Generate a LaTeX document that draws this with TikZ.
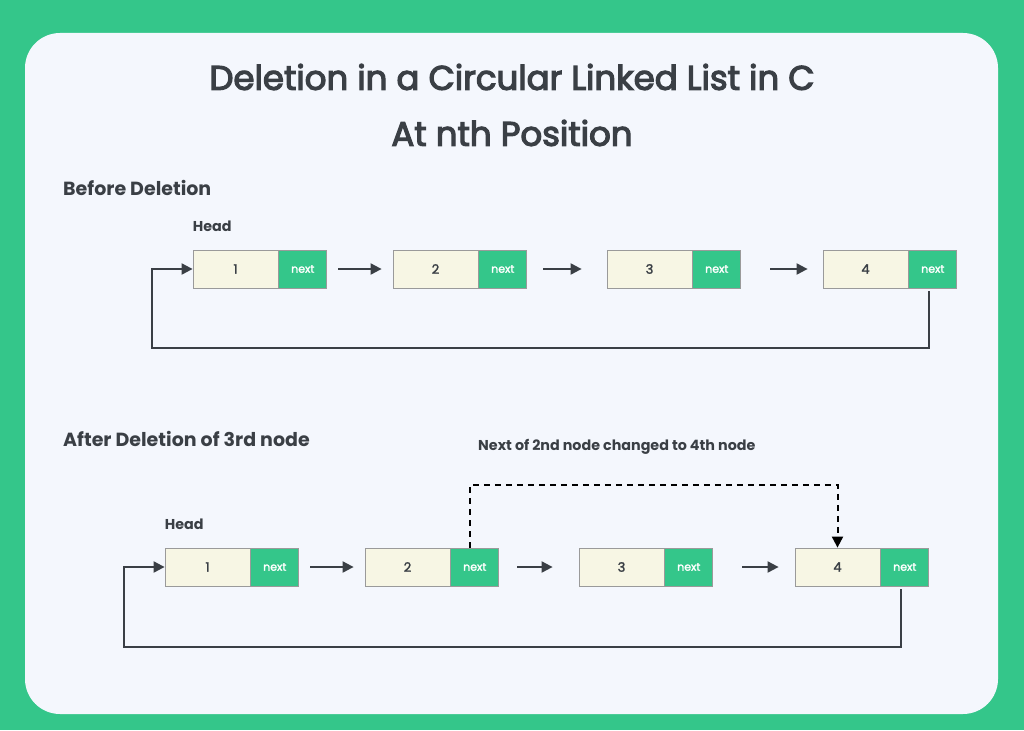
\documentclass[tikz,border=0pt]{standalone}
\usepackage{fontspec}
\setmainfont{Poppins}
\newfontfamily\popmed[FakeBold=2]{Poppins}
\newfontfamily\poptitle[FakeBold=3.5]{Poppins}
\usetikzlibrary{arrows.meta,positioning}

\definecolor{ggreen}{HTML}{34C68A}
\definecolor{panel}{HTML}{F4F7FD}
\definecolor{cream}{HTML}{F7F6E4}
\definecolor{ink}{HTML}{3A3F45}
\definecolor{edge}{HTML}{9A9A9A}

\begin{document}
\begin{tikzpicture}[
  x=1pt, y=-1pt,
  data/.style={draw=edge, fill=cream, line width=0.8pt, minimum width=85pt, minimum height=38pt, inner sep=0pt, text=ink, font=\fontsize{13}{13}\popmed},
  nxt/.style={draw=edge, fill=ggreen, line width=0.8pt, minimum width=48pt, minimum height=38pt, inner sep=0pt, text=white, font=\fontsize{11}{11}\popmed},
  link/.style={-{Triangle[length=11pt,width=11pt]}, draw=ink, line width=2pt},
  dlink/.style={-{Triangle[length=11pt,width=11pt]}, draw=black, line width=2pt, dash pattern=on 6pt off 5pt},
  lbl/.style={inner sep=0pt, text=ink, font=\fontsize{14.3}{15}\bfseries},
  sect/.style={inner sep=0pt, text=ink, anchor=west, font=\fontsize{19}{20}\bfseries},
  ttl/.style={text=ink, font=\fontsize{34}{38}\poptitle}
]
  % background and panel
  \fill[ggreen] (0,0) rectangle (1024,730);
  \fill[panel, rounded corners=35pt] (25,33) rectangle (998,714);

  \node[ttl] (title) at (512,77) {Deletion in a Circular Linked List in C};
  \node[ttl] (subtitle) at (512,133) {At nth Position};

  % before deletion
  \node[sect] (before) at (63,188) {Before Deletion};

  \node[data] (a1) at (235.5,269) {1};
  \node[nxt, right=0pt of a1] (a1n) {next};
  \node[data] (a2) at (435.5,269) {2};
  \node[nxt, right=0pt of a2] (a2n) {next};
  \node[data] (a3) at (649.5,269) {3};
  \node[nxt, right=0pt of a3] (a3n) {next};
  \node[data] (a4) at (865.5,269) {4};
  \node[nxt, right=0pt of a4] (a4n) {next};
  \node[lbl, anchor=south west] (ahead) at ([yshift=18pt]a1.north west) {Head};

  \draw[link, shorten <=11pt, shorten >=11pt] (a1n) -- (a2);
  \draw[link, shorten <=16pt, shorten >=25pt] (a2n) -- (a3);
  \draw[link, shorten <=29pt, shorten >=15pt] (a3n) -- (a4);
  \draw[link, shorten <=3pt] ([xshift=-4pt]a4n.south) -- ++(0,60) -| ([xshift=-41pt]a1.west) -- (a1.west);

  % after deletion
  \node[sect] (after) at (63,439) {After Deletion of 3rd node};
  \node[lbl, anchor=west] (note) at (478,447) {Next of 2nd node changed to 4th node};

  \node[data] (b1) at (207.5,567) {1};
  \node[nxt, right=0pt of b1] (b1n) {next};
  \node[data] (b2) at (407.5,567) {2};
  \node[nxt, right=0pt of b2] (b2n) {next};
  \node[data] (b3) at (621.5,567) {3};
  \node[nxt, right=0pt of b3] (b3n) {next};
  \node[data] (b4) at (837.5,567) {4};
  \node[nxt, right=0pt of b4] (b4n) {next};
  \node[lbl, anchor=south west] (bhead) at ([yshift=18pt]b1.north west) {Head};

  \draw[link, shorten <=11pt, shorten >=11pt] (b1n) -- (b2);
  \draw[link, shorten <=18pt, shorten >=26pt] (b2n) -- (b3);
  \draw[link, shorten <=29pt, shorten >=16pt] (b3n) -- (b4);
  \draw[link, shorten <=3pt] ([xshift=-4pt]b4n.south) -- ++(0,61) -| ([xshift=-41pt]b1.west) -- (b1.west);
  \draw[dlink] ([xshift=-5pt]b2n.north) -- ++(0,-63) -| (b4.north);
\end{tikzpicture}
\end{document}
